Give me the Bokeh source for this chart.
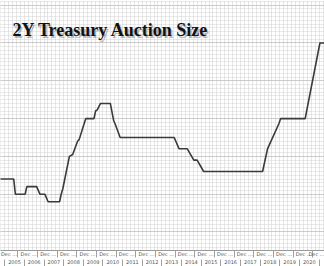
from bokeh.plotting import figure
from bokeh.models import (Range1d, LinearAxis, FixedTicker, Grid, Label,
                          ColumnDataSource, CustomJSTickFormatter)
from bokeh.embed import file_html
from bokeh.resources import INLINE

# 2Y Treasury auction size ($bn), read at the turning points of the line
dates = ["2004-09", "2005-06", "2005-07", "2006-01", "2006-02", "2006-08",
         "2006-10", "2007-01", "2007-03", "2007-10", "2007-11", "2007-12",
         "2008-04", "2008-06", "2008-09", "2008-10", "2009-02", "2009-07",
         "2009-08", "2009-09", "2009-11", "2010-05", "2010-07", "2010-08",
         "2010-11", "2013-08", "2013-11", "2014-04", "2014-08", "2014-10",
         "2015-02", "2018-02", "2018-05", "2018-12", "2019-01", "2020-04",
         "2021-01", "2021-04"]
sizes = [24, 24, 20, 20, 22, 22,
         20, 20, 18, 18, 20, 21.5,
         30, 30.5, 34, 34.5, 40, 40,
         42, 42.3, 44, 44, 39.5, 38.5,
         35, 35, 32, 32, 29, 29,
         26, 26, 32, 38.7, 40, 40,
         60, 60]

years = list(range(2004, 2021))
year_labels = [str(y) for y in years]
month_labels = ["Dec ..." for y in years]
title = "2Y Treasury Auction Size"


def midx(s):
    y, m = s.split("-")
    return (int(y) - 2004) * 12 + int(m) - 1


src = ColumnDataSource(dict(x=[midx(d) for d in dates], y=sizes))

p = figure(width=324, height=266, output_backend="svg", toolbar_location=None,
           x_range=Range1d(8.92, 206.8), y_range=Range1d(5.1, 71.24),
           x_axis_location=None, y_axis_location=None,
           min_border_left=0, min_border_right=0, min_border_top=0,
           min_border_bottom=0, background_fill_color="white",
           border_fill_color="white")
p.outline_line_color = None
p.grid.visible = False

# dotted grids
vticks = [12 * (y - 2004) - 0.5 + k * 2.4 for y in years + [2021] for k in range(5)]
vgrid = Grid(dimension=0, ticker=FixedTicker(ticks=vticks),
             grid_line_color="#cccccc", grid_line_dash="1 1", grid_line_width=1)
hgrid = Grid(dimension=1,
             ticker=FixedTicker(ticks=[10, 20, 30, 40, 50, 60, 70],
                                minor_ticks=list(range(5, 72))),
             grid_line_color="#b0b0b0", grid_line_dash="1 1", grid_line_width=1,
             minor_grid_line_color="#d2d2d2", minor_grid_line_dash="1 1",
             minor_grid_line_width=1)
p.add_layout(vgrid)
p.add_layout(hgrid)

p.line("x", "y", source=src, line_color="#3a3a3a", line_width=1.6)

# two-level category style axis
dec_pos = [12 * (y - 2004) + 11 + 3.1 for y in years]
dec_sep = [12 * (y - 2004) + 11 + 8.6 for y in years]
year_pos = [12 * (y - 2004) + 5.5 for y in years]
year_sep = [12 * (y - 2004) - 0.5 for y in years + [2021]]

fmt_code = ("const i = pos.findIndex(q => Math.abs(q - tick) < 1e-6);"
            "return i >= 0 ? labels[i] : '';")

ax1 = LinearAxis(ticker=FixedTicker(ticks=dec_pos, minor_ticks=dec_sep),
                 formatter=CustomJSTickFormatter(args=dict(pos=dec_pos, labels=month_labels),
                                                 code=fmt_code))
ax2 = LinearAxis(ticker=FixedTicker(ticks=year_pos, minor_ticks=year_sep),
                 formatter=CustomJSTickFormatter(args=dict(pos=year_pos, labels=year_labels),
                                                 code=fmt_code))
for ax in (ax1, ax2):
    ax.major_tick_out = 0
    ax.major_tick_in = 0
    ax.minor_tick_out = 0
    ax.minor_tick_in = -7
    ax.minor_tick_line_color = "#a0a0a0"
    ax.major_label_text_font = "DejaVu Sans"
    ax.major_label_text_font_size = "5px"
    ax.major_label_text_color = "#555555"
    ax.major_label_standoff = 0
ax1.axis_line_color = "#999999"
ax2.axis_line_color = None
p.add_layout(ax1, "below")
p.add_layout(ax2, "below")

# title with soft shadow
p.add_layout(Label(x=17.2, y=62.9, text=title, text_font="Liberation Serif",
                   text_font_style="bold", text_font_size="18px",
                   text_color="#777777", text_alpha=0.5, text_baseline="alphabetic"))
p.add_layout(Label(x=16.2, y=63.4, text=title, text_font="Liberation Serif",
                   text_font_style="bold", text_font_size="18px",
                   text_color="#111111", text_baseline="alphabetic"))

open("out.html", "w").write(file_html(p, INLINE))
